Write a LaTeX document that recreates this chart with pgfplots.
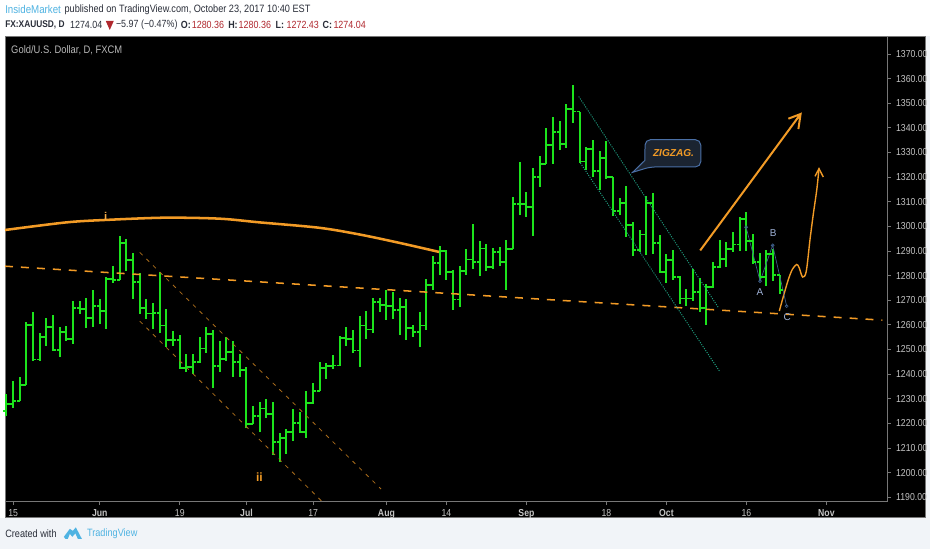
\documentclass[border=0pt]{standalone}
\usepackage{fontspec}
\usepackage{pgfplots}
\usepackage{pgfplotstable}
\pgfplotsset{compat=1.18}
\setmainfont{Liberation Sans}
\newfontfamily\nar[FakeStretch=0.86]{Liberation Sans}
\definecolor{bargreen}{HTML}{1CE41C}
\definecolor{orng}{HTML}{F29B26}
\definecolor{tealc}{HTML}{1F9E80}
\definecolor{tickc}{HTML}{C4C4C4}
\definecolor{axc}{HTML}{777777}
\definecolor{cyanc}{HTML}{4FB3E2}
\definecolor{redc}{HTML}{B0282E}
\definecolor{txt}{HTML}{2A2E39}
\definecolor{abc}{HTML}{3E5F8A}
\definecolor{abct}{HTML}{9FB2D8}
\definecolor{pagebg}{HTML}{F1F4F8}
\definecolor{callf}{HTML}{1B2431}
\definecolor{calld}{HTML}{4A6FA5}
\pgfdeclareplotmark{openT}{\pgfsetlinewidth{1.4pt}\pgfpathmoveto{\pgfpoint{-2.4pt}{0pt}}\pgfpathlineto{\pgfpoint{0pt}{0pt}}\pgfusepathqstroke}
\pgfdeclareplotmark{closeT}{\pgfsetlinewidth{1.4pt}\pgfpathmoveto{\pgfpoint{0pt}{0pt}}\pgfpathlineto{\pgfpoint{2.4pt}{0pt}}\pgfusepathqstroke}
\pgfplotstableread{
i o h l c
0 1225.0 1231.8 1223.0 1228.0
1 1228.0 1237.2 1226.4 1229.1
2 1229.1 1238.9 1229.1 1235.7
3 1235.7 1261.1 1235.4 1260.1
4 1260.1 1265.1 1245.7 1245.9
5 1245.9 1256.5 1245.3 1255.1
6 1255.1 1262.8 1251.4 1259.1
7 1259.1 1263.8 1249.3 1249.7
8 1249.7 1259.1 1247.0 1257.0
9 1257.0 1259.7 1253.4 1254.1
10 1254.1 1269.6 1252.4 1266.9
11 1266.9 1269.6 1264.2 1266.5
12 1266.5 1270.7 1258.8 1262.6
13 1262.6 1274.1 1259.1 1267.6
14 1267.6 1270.3 1260.5 1265.5
15 1265.5 1279.3 1258.4 1278.7
16 1278.7 1283.8 1277.0 1278.1
17 1278.1 1296.2 1278.1 1293.2
18 1293.2 1295.0 1281.8 1286.2
19 1286.2 1289.2 1270.5 1277.4
20 1277.4 1281.1 1264.2 1266.9
21 1266.9 1270.3 1262.4 1264.6
22 1264.6 1268.9 1258.4 1264.9
23 1264.9 1281.4 1256.8 1259.7
24 1259.7 1266.6 1251.1 1253.8
25 1253.8 1257.4 1251.4 1253.8
26 1253.8 1255.7 1242.3 1242.6
27 1242.6 1248.3 1240.8 1242.9
28 1242.9 1248.0 1239.9 1244.9
29 1244.9 1255.1 1244.6 1250.4
30 1250.4 1259.2 1248.7 1256.4
31 1256.4 1258.1 1234.5 1243.3
32 1243.3 1253.4 1240.8 1246.2
33 1246.2 1255.1 1245.3 1248.9
34 1248.9 1253.4 1238.9 1244.9
35 1244.9 1248.3 1238.8 1241.5
36 1241.5 1242.9 1218.3 1219.9
37 1219.9 1227.0 1219.8 1223.0
38 1223.0 1228.8 1216.6 1226.0
39 1226.0 1230.0 1222.0 1223.9
40 1223.9 1228.8 1207.0 1212.5
41 1212.5 1216.2 1204.5 1213.9
42 1213.9 1217.6 1207.7 1216.6
43 1216.6 1226.0 1212.9 1220.3
44 1220.3 1224.6 1216.2 1216.5
45 1216.5 1233.1 1214.2 1228.4
46 1228.4 1236.5 1227.7 1233.1
47 1233.1 1244.9 1233.1 1242.6
48 1242.6 1244.3 1237.9 1243.3
49 1243.3 1247.6 1241.9 1243.5
50 1243.5 1255.4 1243.3 1254.5
51 1254.5 1259.2 1251.4 1254.1
52 1254.1 1257.8 1248.7 1249.6
53 1249.6 1263.5 1243.0 1259.7
54 1259.7 1265.5 1254.1 1258.1
55 1258.1 1271.0 1256.8 1269.2
56 1269.2 1271.0 1265.1 1268.2
57 1268.2 1274.1 1261.8 1267.8
58 1267.8 1273.2 1262.2 1266.0
59 1266.0 1271.0 1255.8 1267.3
60 1267.3 1270.3 1253.7 1258.8
61 1258.8 1260.1 1255.1 1257.0
62 1257.0 1265.1 1251.0 1259.7
63 1259.7 1278.8 1258.1 1276.1
64 1276.1 1288.1 1274.1 1285.1
65 1285.1 1292.2 1280.4 1289.9
66 1289.9 1290.3 1278.0 1281.5
67 1281.5 1282.2 1266.2 1270.3
68 1270.3 1283.8 1267.2 1281.8
69 1281.8 1290.6 1280.4 1286.5
70 1286.5 1301.0 1282.7 1285.4
71 1285.4 1294.2 1279.8 1291.0
72 1291.0 1292.9 1281.8 1283.6
73 1283.6 1291.3 1282.5 1289.5
74 1289.5 1291.7 1283.8 1285.4
75 1285.4 1294.6 1274.1 1290.9
76 1290.9 1311.9 1290.6 1309.1
77 1309.1 1326.0 1304.4 1309.1
78 1309.1 1313.8 1303.8 1307.8
79 1307.8 1323.6 1295.9 1320.0
80 1320.0 1328.6 1315.8 1325.4
81 1325.4 1339.9 1325.3 1333.1
82 1333.1 1344.3 1325.3 1338.2
83 1338.2 1342.6 1331.1 1333.5
84 1333.5 1349.6 1331.8 1347.7
85 1347.7 1357.4 1341.9 1346.6
86 1346.6 1346.6 1325.9 1326.3
87 1326.3 1332.2 1323.0 1331.3
88 1331.3 1334.9 1320.0 1322.3
89 1322.3 1330.7 1314.9 1327.7
90 1327.7 1334.5 1319.2 1320.0
91 1320.0 1320.0 1304.1 1306.1
92 1306.1 1311.5 1304.7 1309.5
93 1309.5 1316.2 1295.5 1300.7
94 1300.7 1301.6 1287.8 1290.3
95 1290.3 1298.7 1289.6 1296.7
96 1296.7 1312.2 1288.3 1309.5
97 1309.5 1313.5 1288.6 1293.3
98 1293.3 1296.3 1281.1 1281.4
99 1281.4 1288.6 1277.1 1286.3
100 1286.3 1290.3 1278.0 1279.5
101 1279.5 1280.0 1268.3 1270.7
102 1270.7 1274.6 1267.6 1270.7
103 1270.7 1282.5 1269.6 1273.3
104 1273.3 1279.1 1265.2 1266.9
105 1266.9 1276.4 1259.9 1275.5
106 1275.5 1285.4 1275.0 1283.4
107 1283.4 1294.6 1283.2 1286.9
108 1286.9 1293.7 1283.6 1290.9
109 1290.9 1297.6 1289.5 1292.6
110 1292.6 1303.8 1289.9 1303.1
111 1303.1 1305.7 1289.9 1294.0
112 1294.0 1296.7 1284.5 1285.4
113 1285.4 1289.2 1277.7 1279.5
114 1279.5 1290.2 1275.7 1288.6
115 1288.6 1290.9 1277.7 1280.36
116 1280.36 1280.36 1272.43 1274.04
}\ohlc
\begin{document}
\begin{tikzpicture}[x=0.75pt,y=-0.75pt]
% page and panel
\fill[white] (0,0) rectangle (932,550);
\fill[pagebg] (0,519) rectangle (932,550) ;
\fill[pagebg] (928,36) rectangle (932,550);
\filldraw[black,draw=axc,line width=0.5pt] (5,36) rectangle (927.6,518.6);
% axis
\begin{axis}[
  at={(3.75pt,-377.25pt)},anchor=south west,scale only axis,
  width=663.5pt,height=350.25pt,
  xmin=-0.2246,xmax=132.2,ymin=1188.1,ymax=1377.3,
  axis x line*=bottom,axis y line*=right,
  axis line style={axc,line width=0.75pt},
  tick align=outside,major tick length=2.4pt,
  tick style={axc,line width=0.6pt},
  xtick={1,14,26,36,46,57,66,78,90,99,111,123},
  xticklabels={15,{\bfseries Jun},19,{\bfseries Jul},17,{\bfseries Aug},14,{\bfseries Sep},18,{\bfseries Oct},16,{\bfseries Nov}},
  ytick={1190,1200,...,1370},
  scaled y ticks=false,
  /pgf/number format/assume math mode=true,
  /pgf/number format/fixed,/pgf/number format/fixed zerofill,/pgf/number format/precision=2,/pgf/number format/1000 sep={},
  xticklabel style={font=\fontsize{7.6}{8}\selectfont\nar,text=tickc,yshift=0.4pt},
  yticklabel style={font=\fontsize{7.6}{8}\selectfont\nar,text=tickc,xshift=0.4pt},
  unbounded coords=jump,
]
\addplot[draw=none,forget plot,error bars/.cd,y dir=both,y explicit,error mark=none,
  error bar style={bargreen,line width=1.5pt,line cap=butt}]
  table[x=i,y=c,y error plus expr=\thisrow{h}-\thisrow{c},y error minus expr=\thisrow{c}-\thisrow{l}] {\ohlc};
\addplot[only marks,mark=openT,color=bargreen] table[x=i,y=o] {\ohlc};
\addplot[only marks,mark=closeT,color=bargreen] table[x=i,y=c] {\ohlc};
% long dashed line
\addplot[orng,line width=1.15pt,dash pattern=on 6pt off 6pt] coordinates {(-0.22,1283.8) (131.4,1261.9)};
% arc
\addplot[orng,line width=1.9pt,smooth] coordinates {(-0.22,1298.5) (9.01,1301.6) (15.0,1302.6) (23.73,1303.5) (31.96,1303.1) (37.95,1301.6) (46.93,1299.4) (52.92,1296.7) (58.9,1293.3) (64.9,1289.6)};
% left channel
\addplot[orng!70!black,line width=0.6pt,dash pattern=on 3pt off 4pt] coordinates {(19.99,1289.4) (56.2,1193.3)};
\addplot[orng!70!black,line width=0.6pt,dash pattern=on 3pt off 4pt] coordinates {(19.99,1261.5) (47.4,1188.1)};
% right channel
\addplot[tealc,line width=0.7pt,dash pattern=on 0.8pt off 1pt] coordinates {(85.85,1352.7) (106.8,1267.0)};
\addplot[tealc,line width=0.7pt,dash pattern=on 0.8pt off 1pt] coordinates {(86.1,1325.7) (106.96,1241.2)};
% big arrow
\addplot[orng,line width=1.5pt] coordinates {(104.07,1290.2) (119.13,1345.6) (nan,nan) (117.3,1343.7) (119.13,1345.6) (118.8,1339.5)};
% thin curve
\addplot[orng,line width=1.05pt,smooth] coordinates {(115.94,1265.6) (116.54,1271.5) (117.29,1278.4) (117.89,1282.5) (118.53,1284.5) (118.9,1283.3) (119.43,1279.4) (119.98,1281.7) (120.54,1294.6) (121.03,1304.8) (121.56,1314.9) (121.89,1323.4)};
\addplot[orng,line width=1.05pt] coordinates {(121.29,1320.3) (121.89,1323.4) (122.54,1320.0)};
% ABC
\addplot[abc,line width=0.5pt,mark=o,mark size=1.1pt,mark options={abc}] coordinates {(110.96,1299.6) (113.05,1277.7) (114.94,1292.3) (117.04,1267.6)};
\end{axis}
% labels on chart
\node[anchor=center,text=orng!85!white,font=\fontsize{8.5}{9}\selectfont\bfseries] at (106,217) {i};
\node[anchor=center,text=orng,font=\fontsize{9}{9}\selectfont\bfseries] at (260,478.5) {ii};
\node[text=abct,font=\fontsize{7.5}{8}\selectfont] at (761.7,293) {A};
\node[text=abct,font=\fontsize{7.5}{8}\selectfont] at (775,234) {B};
\node[text=abct,font=\fontsize{7.5}{8}\selectfont] at (789,318) {C};
% callout
\filldraw[fill=callf,draw=calld,line width=0.75pt,rounded corners=4pt]
  (646.5,140) -- (702.3,140) -- (702.3,167.3) -- (651.7,167.3) [sharp corners] -- (634,172.7) -- (646.3,160.7) [rounded corners=4pt] -- cycle;
\node[text=orng,font=\fontsize{7.6}{9}\selectfont\bfseries\itshape] at (675,153) {ZIGZAG.};
% panel title
\node[anchor=west,inner sep=0pt,text=tickc!120!white,font=\fontsize{8.2}{9}\selectfont\nar] at (11,50.7) {Gold/U.S. Dollar, D, FXCM};
% header
\node[anchor=west,inner sep=0pt,text=cyanc,font=\fontsize{8.5}{9}\selectfont\nar] at (5,9.5) {InsideMarket};
\node[anchor=west,inner sep=0pt,text=txt,font=\fontsize{8}{9}\selectfont\nar] at (64.5,9.5) {published on TradingView.com, October 23, 2017 10:40 EST};
\node[anchor=west,inner sep=0pt,text=txt,font=\fontsize{7.3}{9}\selectfont\nar\bfseries] at (5,25) {FX:XAUUSD, D};
\node[anchor=west,inner sep=0pt,text=txt,font=\fontsize{7.8}{9}\selectfont\nar] at (70,25) {1274.04};
\fill[redc] (106,21) -- (114,21) -- (110,30) -- cycle;
\node[anchor=west,inner sep=0pt,text=txt,font=\fontsize{7.8}{9}\selectfont\nar] at (116,25) {−5.97 (−0.47\%)};
\foreach \xa/\la/\xb/\vb in {181/O:/192/1280.36,228.5/H:/239/1280.36,276/L:/287/1272.43,323/C:/334/1274.04}{
  \node[anchor=west,inner sep=0pt,text=txt,font=\fontsize{7.8}{9}\selectfont\nar\bfseries] at (\xa,25) {\la};
  \node[anchor=west,inner sep=0pt,text=redc,font=\fontsize{7.8}{9}\selectfont\nar] at (\xb,25) {\vb};
}
% footer
\node[anchor=west,inner sep=0pt,text=txt,font=\fontsize{8}{9}\selectfont\nar] at (5,535) {Created with};
\fill[cyanc] (64,538) -- (70,530) -- (73,532) -- (76,528.5) -- (82,540) -- (78,540) -- (75.5,534.5) -- (72.5,538) -- (70,535) -- (68,540) -- (65.5,540) -- cycle;
\node[anchor=west,inner sep=0pt,text=cyanc,font=\fontsize{8}{9}\selectfont\nar] at (87,535) {TradingView};
\end{tikzpicture}
\end{document}
